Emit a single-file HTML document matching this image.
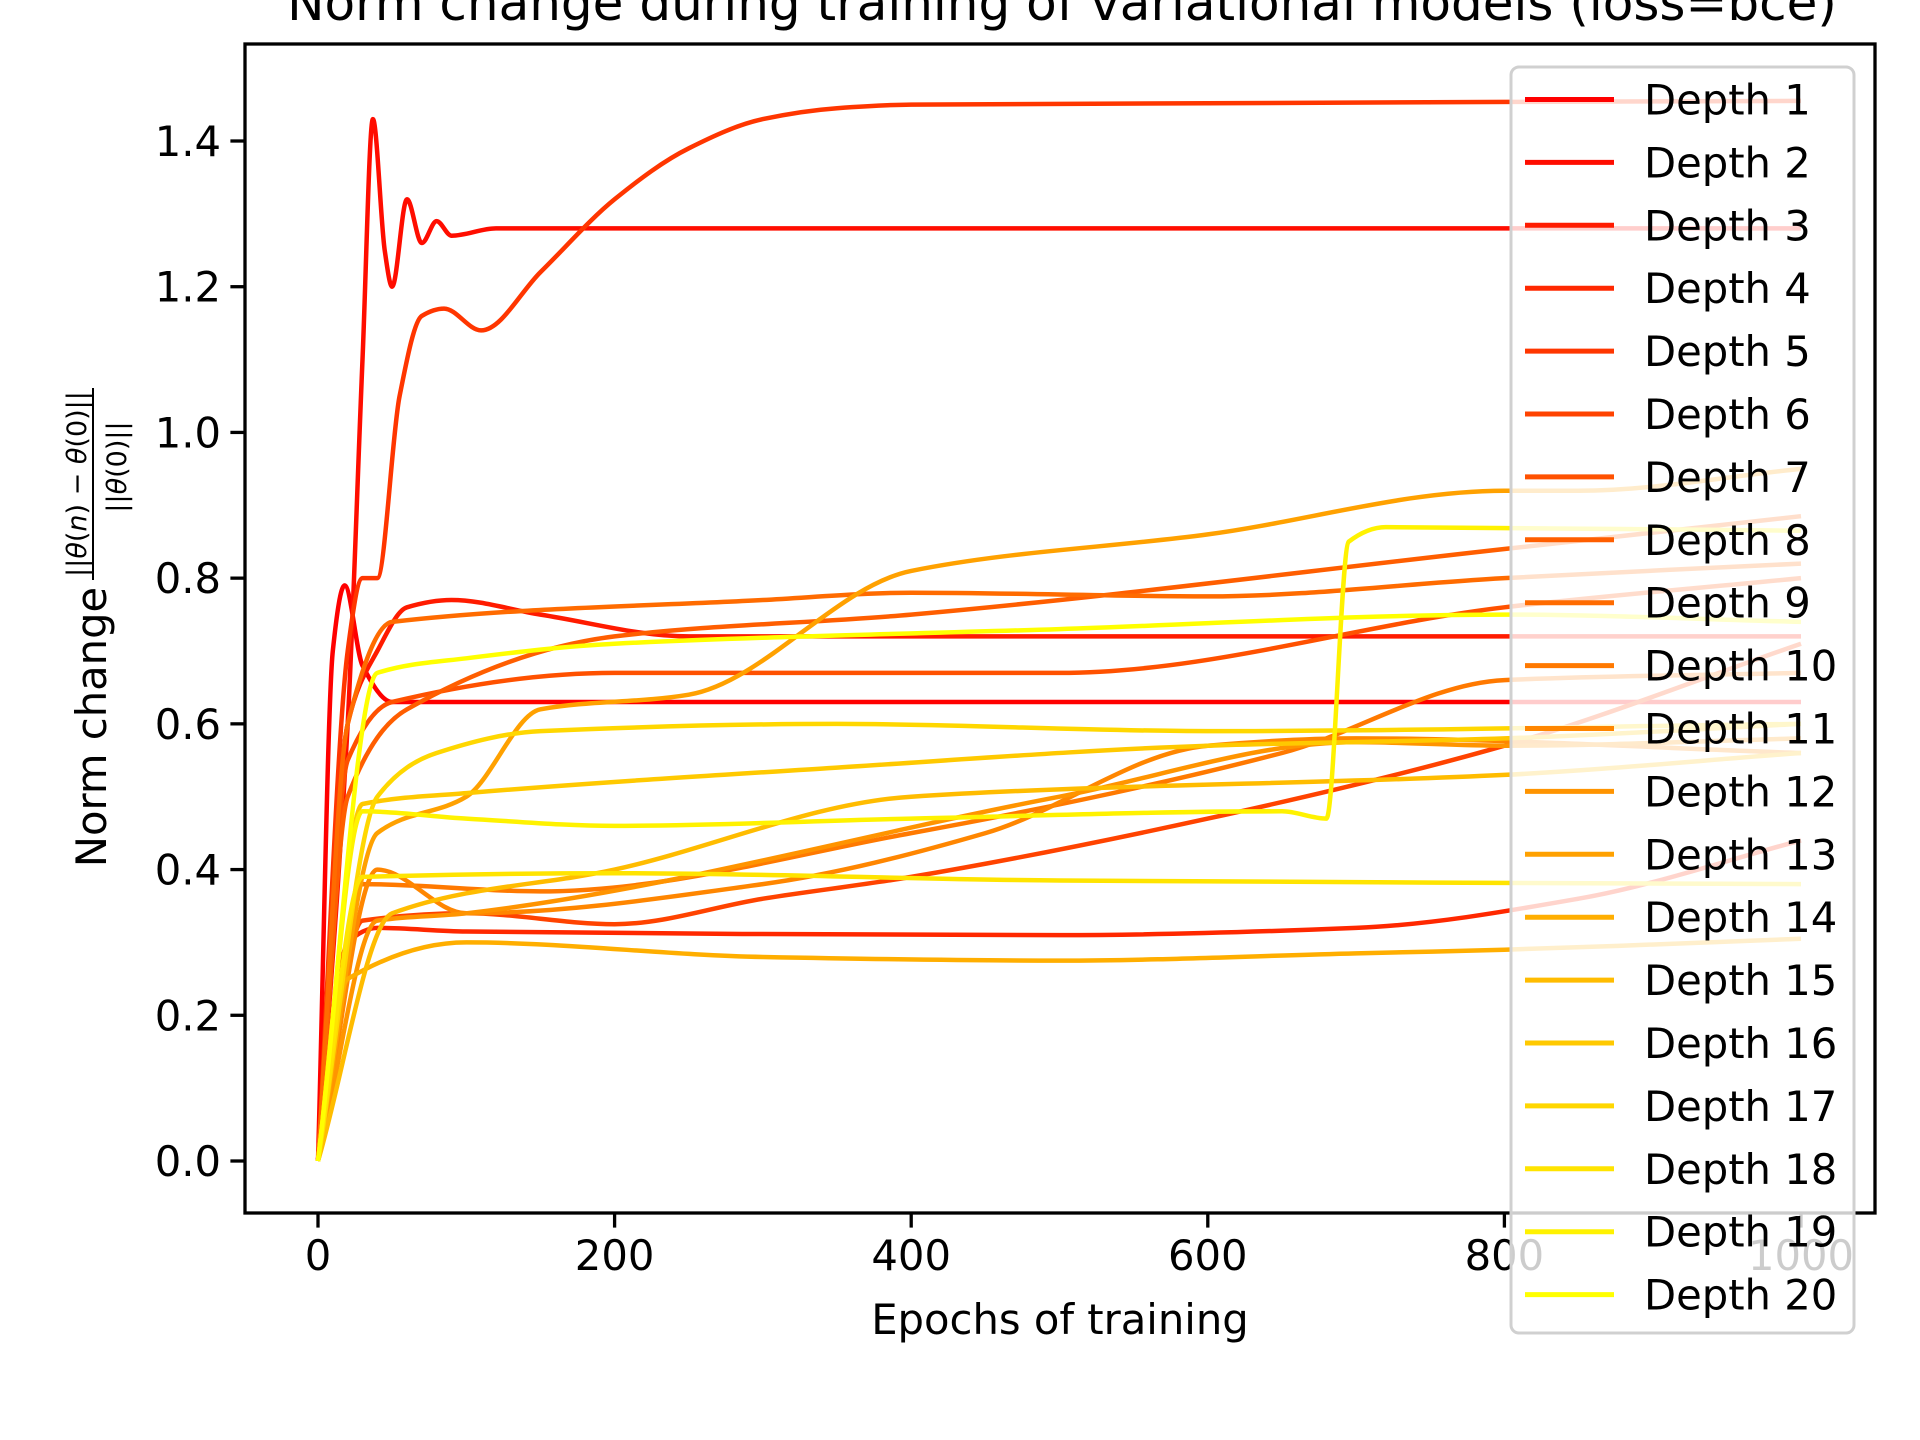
<!DOCTYPE html>
<html><head><meta charset="utf-8">
<style>
html,body{margin:0;padding:0;background:#fff;}
svg{display:block;font-family:"DejaVu Sans","Liberation Sans",sans-serif;}
</style></head>
<body>
<svg id="chart" width="1920" height="1440" viewBox="0 0 1920 1440" xmlns="http://www.w3.org/2000/svg">
<rect width="1920" height="1440" fill="#fff"/>
<text x="1062" y="20" font-size="50" text-anchor="middle">Norm change during training of variational models (loss=bce)</text>
<g id="plot"></g>
<g id="axes"></g>
<text x="1060" y="1334" font-size="41.7" text-anchor="middle">Epochs of training</text>
<g>
<text transform="translate(106,727) rotate(-90)" font-size="41.7" text-anchor="middle">Norm change</text>
<text transform="translate(86,484) rotate(-90)" font-size="27" text-anchor="middle">||<tspan font-style="italic">θ</tspan>(<tspan font-style="italic">n</tspan>) − <tspan font-style="italic">θ</tspan>(0)||</text>
<line x1="93" y1="388" x2="93" y2="580" stroke="#000" stroke-width="2"/>
<text transform="translate(126,467) rotate(-90)" font-size="27" text-anchor="middle">||<tspan font-style="italic">θ</tspan>(0)||</text>
</g>
<g id="legend"></g>
</svg>
<script>
const NS="http://www.w3.org/2000/svg";
const xTicks=[0,200,400,600,800,1000];
const yTicks=[0.0,0.2,0.4,0.6,0.8,1.0,1.2,1.4];
const seriesNames=["Depth 1","Depth 2","Depth 3","Depth 4","Depth 5","Depth 6","Depth 7","Depth 8","Depth 9","Depth 10","Depth 11","Depth 12","Depth 13","Depth 14","Depth 15","Depth 16","Depth 17","Depth 18","Depth 19","Depth 20"];
const epochs1=[0,10,18,30,50,1000];
const vals1=[0,0.7,0.79,0.68,0.63,0.63];
const epochs2=[0,20,30,37,45,50,60,70,80,90,120,1000];
const vals2=[0,0.6,1.1,1.43,1.25,1.2,1.32,1.26,1.29,1.27,1.28,1.28];
const epochs3=[0,20,40,60,90,150,250,1000];
const vals3=[0,0.6,0.7,0.76,0.77,0.75,0.72,0.72];
const epochs4=[0,20,40,100,500,700,850,1000];
const vals4=[0,0.3,0.32,0.315,0.31,0.32,0.36,0.44];
const epochs5=[0,20,30,40,55,70,85,110,150,200,250,300,350,400,1000];
const vals5=[0,0.7,0.8,0.8,1.05,1.16,1.17,1.14,1.22,1.32,1.39,1.43,1.445,1.45,1.455];
const epochs6=[0,30,100,200,300,400,600,800,1000];
const vals6=[0,0.33,0.34,0.325,0.36,0.39,0.47,0.57,0.71];
const epochs7=[0,20,50,200,500,800,1000];
const vals7=[0,0.55,0.63,0.67,0.67,0.76,0.8];
const epochs8=[0,20,60,200,400,800,1000];
const vals8=[0,0.5,0.62,0.72,0.75,0.84,0.885];
const epochs9=[0,20,50,300,400,600,800,1000];
const vals9=[0,0.6,0.74,0.77,0.78,0.775,0.8,0.82];
const epochs10=[0,30,150,400,650,800,1000];
const vals10=[0,0.38,0.37,0.45,0.56,0.66,0.67];
const epochs11=[0,40,100,300,450,600,700,1000];
const vals11=[0,0.4,0.34,0.38,0.45,0.57,0.58,0.56];
const epochs12=[0,40,100,500,700,800,1000];
const vals12=[0,0.33,0.34,0.5,0.575,0.57,0.58];
const epochs13=[0,40,100,150,250,400,600,800,850,1000];
const vals13=[0,0.45,0.5,0.62,0.64,0.81,0.86,0.92,0.92,0.95];
const epochs14=[0,20,100,300,500,700,800,1000];
const vals14=[0,0.25,0.3,0.28,0.275,0.285,0.29,0.305];
const epochs15=[0,50,200,400,800,1000];
const vals15=[0,0.34,0.4,0.5,0.53,0.56];
const epochs16=[0,30,100,350,600,800,1000];
const vals16=[0,0.49,0.505,0.54,0.57,0.58,0.6];
const epochs17=[0,40,80,150,350,600,1000];
const vals17=[0,0.5,0.56,0.59,0.6,0.59,0.6];
const epochs18=[0,30,200,500,1000];
const vals18=[0,0.39,0.395,0.385,0.38];
const epochs19=[0,30,100,200,400,650,680,695,720,1000];
const vals19=[0,0.48,0.47,0.46,0.47,0.48,0.47,0.85,0.87,0.865];
const epochs20=[0,40,100,200,500,800,1000];
const vals20=[0,0.67,0.69,0.71,0.73,0.75,0.74];
const allEpochs=[epochs1,epochs2,epochs3,epochs4,epochs5,epochs6,epochs7,epochs8,epochs9,epochs10,epochs11,epochs12,epochs13,epochs14,epochs15,epochs16,epochs17,epochs18,epochs19,epochs20];
const allVals=[vals1,vals2,vals3,vals4,vals5,vals6,vals7,vals8,vals9,vals10,vals11,vals12,vals13,vals14,vals15,vals16,vals17,vals18,vals19,vals20];

const L=245,R=1875,T=44,B=1213;
function xs(v){return 318+(v-0)*(1801-318)/1000;}
function ys(v){return 1161-(v-0)*(1161-141)/1.4;}
function color(i){const g=Math.round(255*i/19);return "rgb(255,"+g+",0)";}
function monoPath(px,py){
  const n=px.length;const d=[],m=new Array(n).fill(0);
  for(let k=0;k<n-1;k++)d.push((py[k+1]-py[k])/(px[k+1]-px[k]));
  m[0]=d[0];m[n-1]=d[n-2];
  for(let k=1;k<n-1;k++){ if(d[k-1]*d[k]<=0)m[k]=0; else m[k]=2/(1/d[k-1]+1/d[k]); }
  let s="M"+px[0].toFixed(1)+","+py[0].toFixed(1);
  for(let k=0;k<n-1;k++){
    const h=(px[k+1]-px[k])/3;
    s+="C"+(px[k]+h).toFixed(1)+","+(py[k]+m[k]*h).toFixed(1)+" "+(px[k+1]-h).toFixed(1)+","+(py[k+1]-m[k+1]*h).toFixed(1)+" "+px[k+1].toFixed(1)+","+py[k+1].toFixed(1);
  }
  return s;
}
const plot=document.getElementById('plot');
for(let i=0;i<allVals.length;i++){
  const e=allEpochs[i],v=allVals[i];
  const px=e.map(xs),py=v.map(ys);
  const p=document.createElementNS(NS,'path');
  p.setAttribute('d',monoPath(px,py));p.setAttribute('fill','none');p.setAttribute('stroke',color(i));
  p.setAttribute('stroke-width','4.5');p.setAttribute('stroke-linejoin','round');
  
  
  plot.appendChild(p);
}
const axes=document.getElementById('axes');
const frame=document.createElementNS(NS,'rect');
frame.setAttribute('x',L);frame.setAttribute('y',T);frame.setAttribute('width',R-L);frame.setAttribute('height',B-T);
frame.setAttribute('fill','none');frame.setAttribute('stroke','#000');frame.setAttribute('stroke-width','3.3');


axes.appendChild(frame);
xTicks.forEach(t=>{
  const x=xs(t);
  const l=document.createElementNS(NS,'line');
  l.setAttribute('x1',x);l.setAttribute('x2',x);l.setAttribute('y1',B);l.setAttribute('y2',B+14.6);
  l.setAttribute('stroke','#000');l.setAttribute('stroke-width','3.3');
  
  
  axes.appendChild(l);
  const tx=document.createElementNS(NS,'text');
  tx.setAttribute('x',x);tx.setAttribute('y',B+57);tx.setAttribute('font-size','41.7');tx.setAttribute('text-anchor','middle');
  tx.textContent=String(t);
  
  
  axes.appendChild(tx);
});
yTicks.forEach(t=>{
  const y=ys(t);
  const l=document.createElementNS(NS,'line');
  l.setAttribute('x1',L-14.6);l.setAttribute('x2',L);l.setAttribute('y1',y);l.setAttribute('y2',y);
  l.setAttribute('stroke','#000');l.setAttribute('stroke-width','3.3');
  
  
  axes.appendChild(l);
  const tx=document.createElementNS(NS,'text');
  tx.setAttribute('x',L-24);tx.setAttribute('y',y+15);tx.setAttribute('font-size','41.7');tx.setAttribute('text-anchor','end');
  tx.textContent=t.toFixed(1);
  
  
  axes.appendChild(tx);
});
const lg=document.getElementById('legend');
const box=document.createElementNS(NS,'rect');
box.setAttribute('x',1511);box.setAttribute('y',67);box.setAttribute('width',343);box.setAttribute('height',1266);box.setAttribute('rx',8);
box.setAttribute('fill','rgba(255,255,255,0.8)');box.setAttribute('stroke','#d0d0d0');box.setAttribute('stroke-width','3');


lg.appendChild(box);
seriesNames.forEach((n,i)=>{
  const y=99.5+i*62.9;
  const g=document.createElementNS(NS,'g');
  
  
  const l=document.createElementNS(NS,'line');
  l.setAttribute('x1',1525);l.setAttribute('x2',1614);l.setAttribute('y1',y);l.setAttribute('y2',y);
  l.setAttribute('stroke',color(i));l.setAttribute('stroke-width','5');
  g.appendChild(l);
  const tx=document.createElementNS(NS,'text');
  tx.setAttribute('x',1644);tx.setAttribute('y',y+15);tx.setAttribute('font-size','41.7');
  tx.textContent=n;
  g.appendChild(tx);
  lg.appendChild(g);
});
</script>
</body></html>
